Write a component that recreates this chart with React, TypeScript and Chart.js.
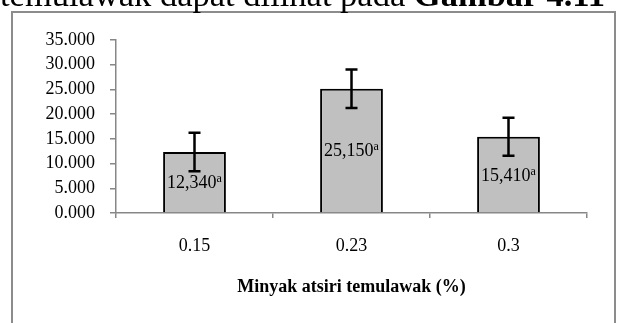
import React, { useEffect, useRef } from "react";
import { Chart, registerables } from "chart.js";

Chart.register(...registerables);

const SERIF = '"Liberation Serif", "Times New Roman", serif';

const categories = ["0.15", "0.23", "0.3"];
const values = [12340, 25150, 15410];
const errors = [3900, 3900, 3850];
const letters = ["a", "a", "a"];
const yMin = 0;
const yMax = 35000;
const yStep = 5000;
const xTitle = "Minyak atsiri temulawak (%)";
const headerRegular = "temulawak dapat dilihat pada ";
const headerBold = "Gambar 4.11";

const GRAY = "#878787";

function fmtValue(v: number): string {
  const th = Math.floor(v / 1000);
  const rest = String(v % 1000).padStart(3, "0");
  return th + "," + rest;
}

const overlayPlugin = {
  id: "overlay",
  afterDatasetsDraw(chart: any) {
    const ctx = chart.ctx as CanvasRenderingContext2D;
    const meta = chart.getDatasetMeta(0);
    const ys = chart.scales.y;
    meta.data.forEach((bar: any, i: number) => {
      const x = bar.x;
      const main = fmtValue(values[i]);
      ctx.save();
      ctx.fillStyle = "#000";
      ctx.font = `18px ${SERIF}`;
      const w1 = ctx.measureText(main).width;
      ctx.font = `12px ${SERIF}`;
      const w2 = ctx.measureText(letters[i]).width;
      const total = w1 + w2;
      const cy = (bar.y + bar.base) / 2;
      const baseline = cy + 6;
      ctx.textBaseline = "alphabetic";
      ctx.textAlign = "left";
      ctx.font = `18px ${SERIF}`;
      ctx.fillText(main, x - total / 2, baseline);
      ctx.font = `12px ${SERIF}`;
      ctx.fillText(letters[i], x - total / 2 + w1, baseline - 6);
      ctx.restore();

      const top = ys.getPixelForValue(values[i] + errors[i]);
      const bot = ys.getPixelForValue(values[i] - errors[i]);
      ctx.save();
      ctx.strokeStyle = "#000";
      ctx.lineWidth = 2.5;
      ctx.beginPath();
      ctx.moveTo(x, top);
      ctx.lineTo(x, bot);
      ctx.moveTo(x - 6, top);
      ctx.lineTo(x + 6, top);
      ctx.moveTo(x - 6, bot);
      ctx.lineTo(x + 6, bot);
      ctx.stroke();
      ctx.restore();
    });
  },
};

export default function App() {
  const canvasRef = useRef<HTMLCanvasElement | null>(null);

  useEffect(() => {
    if (!canvasRef.current) return;
    const chart = new Chart(canvasRef.current, {
      type: "bar",
      data: {
        labels: categories,
        datasets: [
          {
            data: values,
            backgroundColor: "#c0c0c0",
            borderColor: "#000",
            borderWidth: 2,
            barPercentage: 0.4,
            categoryPercentage: 1,
          },
        ],
      },
      options: {
        responsive: false,
        animation: false,
        devicePixelRatio: 1,
        layout: { padding: { left: 0, right: 32, top: 40, bottom: 0 } },
        plugins: {
          legend: { display: false },
          tooltip: { enabled: false },
          title: { display: false },
        },
        scales: {
          x: {
            grid: {
              display: true,
              drawOnChartArea: false,
              drawTicks: true,
              tickLength: 5,
              color: GRAY,
              lineWidth: 1.5,
              offset: true,
            },
            border: { display: true, color: GRAY, width: 1.5 },
            ticks: { font: { family: SERIF, size: 18 }, color: "#000", padding: 17 },
            title: {
              display: true,
              text: xTitle,
              font: { family: SERIF, size: 18, weight: "bold" },
              color: "#000",
              padding: { top: 0, bottom: 25 },
            },
            afterFit: (s: any) => {
              s.height = 110;
            },
          },
          y: {
            min: yMin,
            max: yMax,
            grid: {
              display: true,
              drawOnChartArea: false,
              drawTicks: true,
              tickLength: 6,
              color: GRAY,
              lineWidth: 1.5,
            },
            border: { display: true, color: GRAY, width: 1.5 },
            ticks: {
              stepSize: yStep,
              font: { family: SERIF, size: 18 },
              color: "#000",
              padding: 15,
              callback: (v: any) => (Number(v) / 1000).toFixed(3),
            },
            afterFit: (s: any) => {
              s.width = 116;
            },
          },
        },
      },
      plugins: [overlayPlugin],
    } as any);
    return () => chart.destroy();
  }, []);

  return (
    <div
      style={{
        position: "fixed",
        left: 0,
        top: 0,
        width: 619,
        height: 323,
        overflow: "hidden",
        background: "#fff",
      }}
    >
      <div
        style={{
          position: "absolute",
          left: 11,
          top: 11,
          width: 605,
          height: 400,
          boxSizing: "border-box",
          border: "2px solid #8c8c8c",
        }}
      />
      <canvas
        ref={canvasRef}
        width={619}
        height={323}
        style={{ position: "absolute", left: 0, top: 0, width: 619, height: 323 }}
      />
      <div
        style={{
          position: "absolute",
          left: 0,
          top: -23.5,
          whiteSpace: "nowrap",
          fontFamily: SERIF,
          fontSize: 34.5,
          lineHeight: "34.5px",
          color: "#000",
        }}
      >
        {headerRegular}
        <b>{headerBold}</b>
      </div>
    </div>
  );
}
